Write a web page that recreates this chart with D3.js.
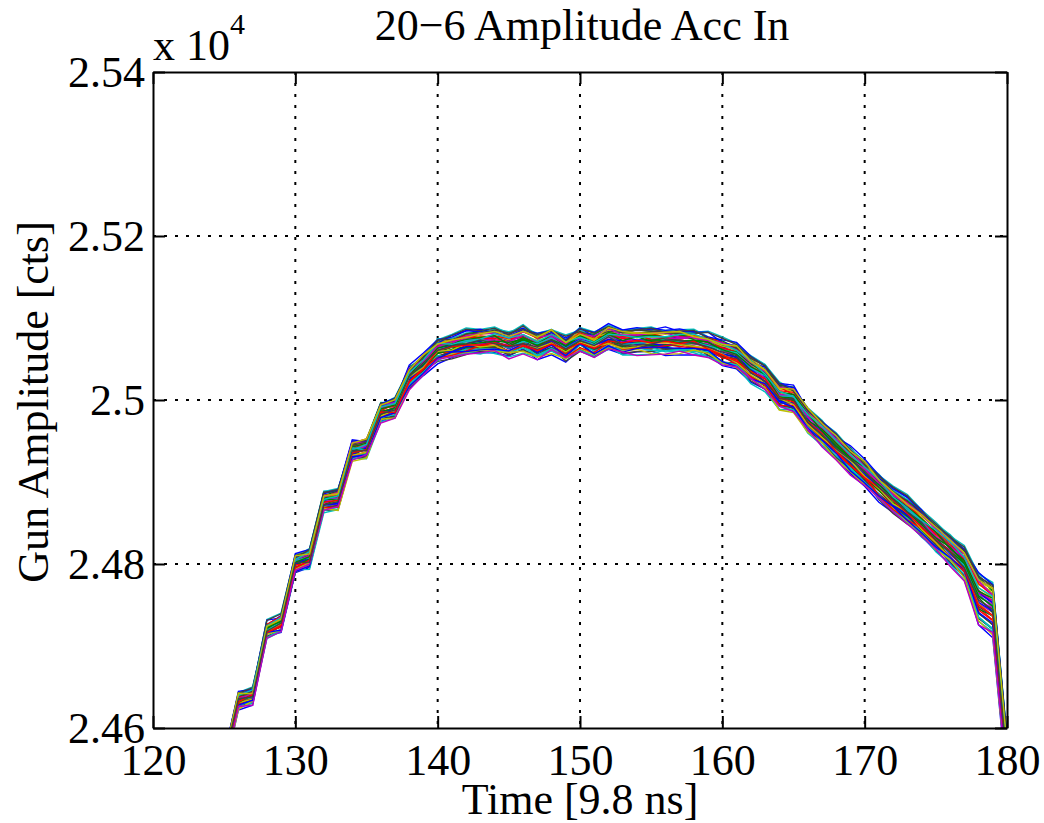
<!DOCTYPE html>
<html>
<head>
<meta charset="utf-8">
<script src="https://cdn.jsdelivr.net/npm/d3@7"></script>
<style>
  body { margin: 0; background: #fff; }
  svg { display: block; }
  text { font-family: "Liberation Serif", "Times New Roman", serif; fill: #000; }
</style>
</head>
<body>
<svg width="1044" height="823"></svg>
<script>
// time samples [9.8 ns]
const times = d3.range(124, 181)
// centre of the trace bundle, counts
const meanTrace = [24488, 24558, 24634, 24639, 24720, 24728, 24801, 24807, 24876, 24879,
  24938, 24941, 24985, 24990, 25028, 25043, 25061, 25065, 25070, 25071,
  25072, 25067, 25074, 25066, 25073, 25063, 25074, 25067, 25076, 25071,
  25072, 25072, 25072, 25072, 25071, 25067, 25059, 25054, 25038, 25027,
  25005, 25001, 24976, 24960, 24943, 24927, 24911, 24894, 24878, 24865,
  24849, 24832, 24817, 24801, 24759, 24746, 24561]
// half width of the bundle at each sample, counts
const bandHalf = [9, 9, 10, 10, 10, 10, 11, 11, 12, 12,
  12, 12, 12, 12, 13, 13, 14, 14, 15, 15,
  15, 15, 15, 15, 15, 15, 15, 15, 15, 15,
  15, 15, 15, 15, 15, 15, 16, 16, 16, 16,
  16, 16, 16, 16, 16, 16, 16, 16, 16, 17,
  17, 17, 18, 19, 32, 34, 30]
// where each of the overlaid pulses sits inside the bundle (-1 .. 1)
const traceOffsets = [-0.95, -0.6, 0.3, 0.85, -0.2, 0.55, -0.8, 0.1, 0.7, -0.45, 0.95, -0.1, 0.4,
  -0.7, 0.2, -0.35, 0.65, -0.9, 0.05, 0.5, -0.55, 0.8, -0.25, 0.35, -0.75, 0.15, 0.6, -0.4,
  0.9, -0.05, 0.45, -0.65, 0.25, -0.85, 0.75, -0.15, 0.3, -0.5, 0.0, 0.55, -0.3, 0.85, -0.6,
  0.1, -0.2, 0.4, -0.95, 0.65, -0.1]
// small pulse-to-pulse wobble, counts
const wobble = [2, -3, 1, 4, -1, -4, 3, 0, -2, 2, -3, 3, 1, -1, 4, -2, 0, 3, -4, 1, 2, -1, -3, 0, 3, -2, 1, -4, 2, 0, -1]
const colors = ['#0000ff', '#008000', '#ff0000', '#00bfbf', '#bf00bf', '#bfbf00', '#404040']
const xTicks = [120, 130, 140, 150, 160, 170, 180]
const yTicks = [24600, 24800, 25000, 25200, 25400]

const svg = d3.select('svg')
const plot = {left: 153, top: 72, right: 1007, bottom: 728}
const fontSize = 44

const x = d3.scaleLinear().domain([120, 180]).range([plot.left, plot.right])
const y = d3.scaleLinear().domain([24600, 25400]).range([plot.bottom, plot.top])

const traces = traceOffsets.map((o, k) => times.map((t, i) => ({
  t,
  v: meanTrace[i] + o * bandHalf[i] + wobble[(i * 5 + k * 11) % wobble.length] * 0.9
})))

svg.append('defs').append('clipPath').attr('id', 'clip')
  .append('rect')
  .attr('x', plot.left).attr('y', plot.top)
  .attr('width', plot.right - plot.left).attr('height', plot.bottom - plot.top)

// grid
const grid = svg.append('g')
  .attr('stroke', '#000').attr('stroke-width', 2).attr('stroke-dasharray', '3,8')
grid.selectAll('.gx').data(xTicks.slice(1, -1)).enter().append('line')
  .attr('x1', d => x(d)).attr('x2', d => x(d))
  .attr('y1', plot.top).attr('y2', plot.bottom)
grid.selectAll('.gy').data(yTicks.slice(1, -1)).enter().append('line')
  .attr('y1', d => y(d)).attr('y2', d => y(d))
  .attr('x1', plot.left).attr('x2', plot.right)

// pulses
const line = d3.line().x(d => x(d.t)).y(d => y(d.v))
svg.append('g').attr('clip-path', 'url(#clip)')
  .selectAll('path').data(traces).enter().append('path')
  .attr('d', line)
  .attr('fill', 'none')
  .attr('stroke', (d, k) => colors[k % colors.length])
  .attr('stroke-width', 1.4)

// axes (ticks inside, mirrored on top/right)
const fmtY = d => String(+(d / 1e4).toFixed(4))
const axes = [
  svg.append('g').attr('transform', `translate(0,${plot.bottom})`)
    .call(d3.axisBottom(x).tickValues(xTicks).tickSizeInner(-12).tickSizeOuter(0).tickPadding(16)),
  svg.append('g').attr('transform', `translate(0,${plot.top})`)
    .call(d3.axisTop(x).tickValues(xTicks).tickSizeInner(-12).tickSizeOuter(0).tickFormat('')),
  svg.append('g').attr('transform', `translate(${plot.left},0)`)
    .call(d3.axisLeft(y).tickValues(yTicks).tickFormat(fmtY).tickSizeInner(-12).tickSizeOuter(0).tickPadding(8)),
  svg.append('g').attr('transform', `translate(${plot.right},0)`)
    .call(d3.axisRight(y).tickValues(yTicks).tickSizeInner(-12).tickSizeOuter(0).tickFormat(''))
]
axes.forEach(a => {
  a.select('.domain').attr('stroke', '#000').attr('stroke-width', 2)
  a.selectAll('.tick line').attr('stroke', '#000').attr('stroke-width', 2)
  a.selectAll('.tick text').attr('font-size', fontSize).style('font-family', '"Liberation Serif", serif')
})
svg.selectAll('.tick text').attr('fill', '#000')

// exponent label
const ex = svg.append('text').attr('x', plot.left).attr('y', 60).attr('font-size', fontSize)
ex.append('tspan').text('x 10')
ex.append('tspan').attr('dy', -26).attr('font-size', 30).text('4')

svg.append('text').attr('x', 582).attr('y', 40).attr('text-anchor', 'middle')
  .attr('font-size', fontSize).text('20\u22126 Amplitude Acc In')
svg.append('text').attr('x', 580).attr('y', 814).attr('text-anchor', 'middle')
  .attr('font-size', fontSize).text('Time [9.8 ns]')
svg.append('text').attr('transform', 'translate(48,402) rotate(-90)').attr('text-anchor', 'middle')
  .attr('font-size', fontSize).text('Gun Amplitude [cts]')
</script>
</body>
</html>
